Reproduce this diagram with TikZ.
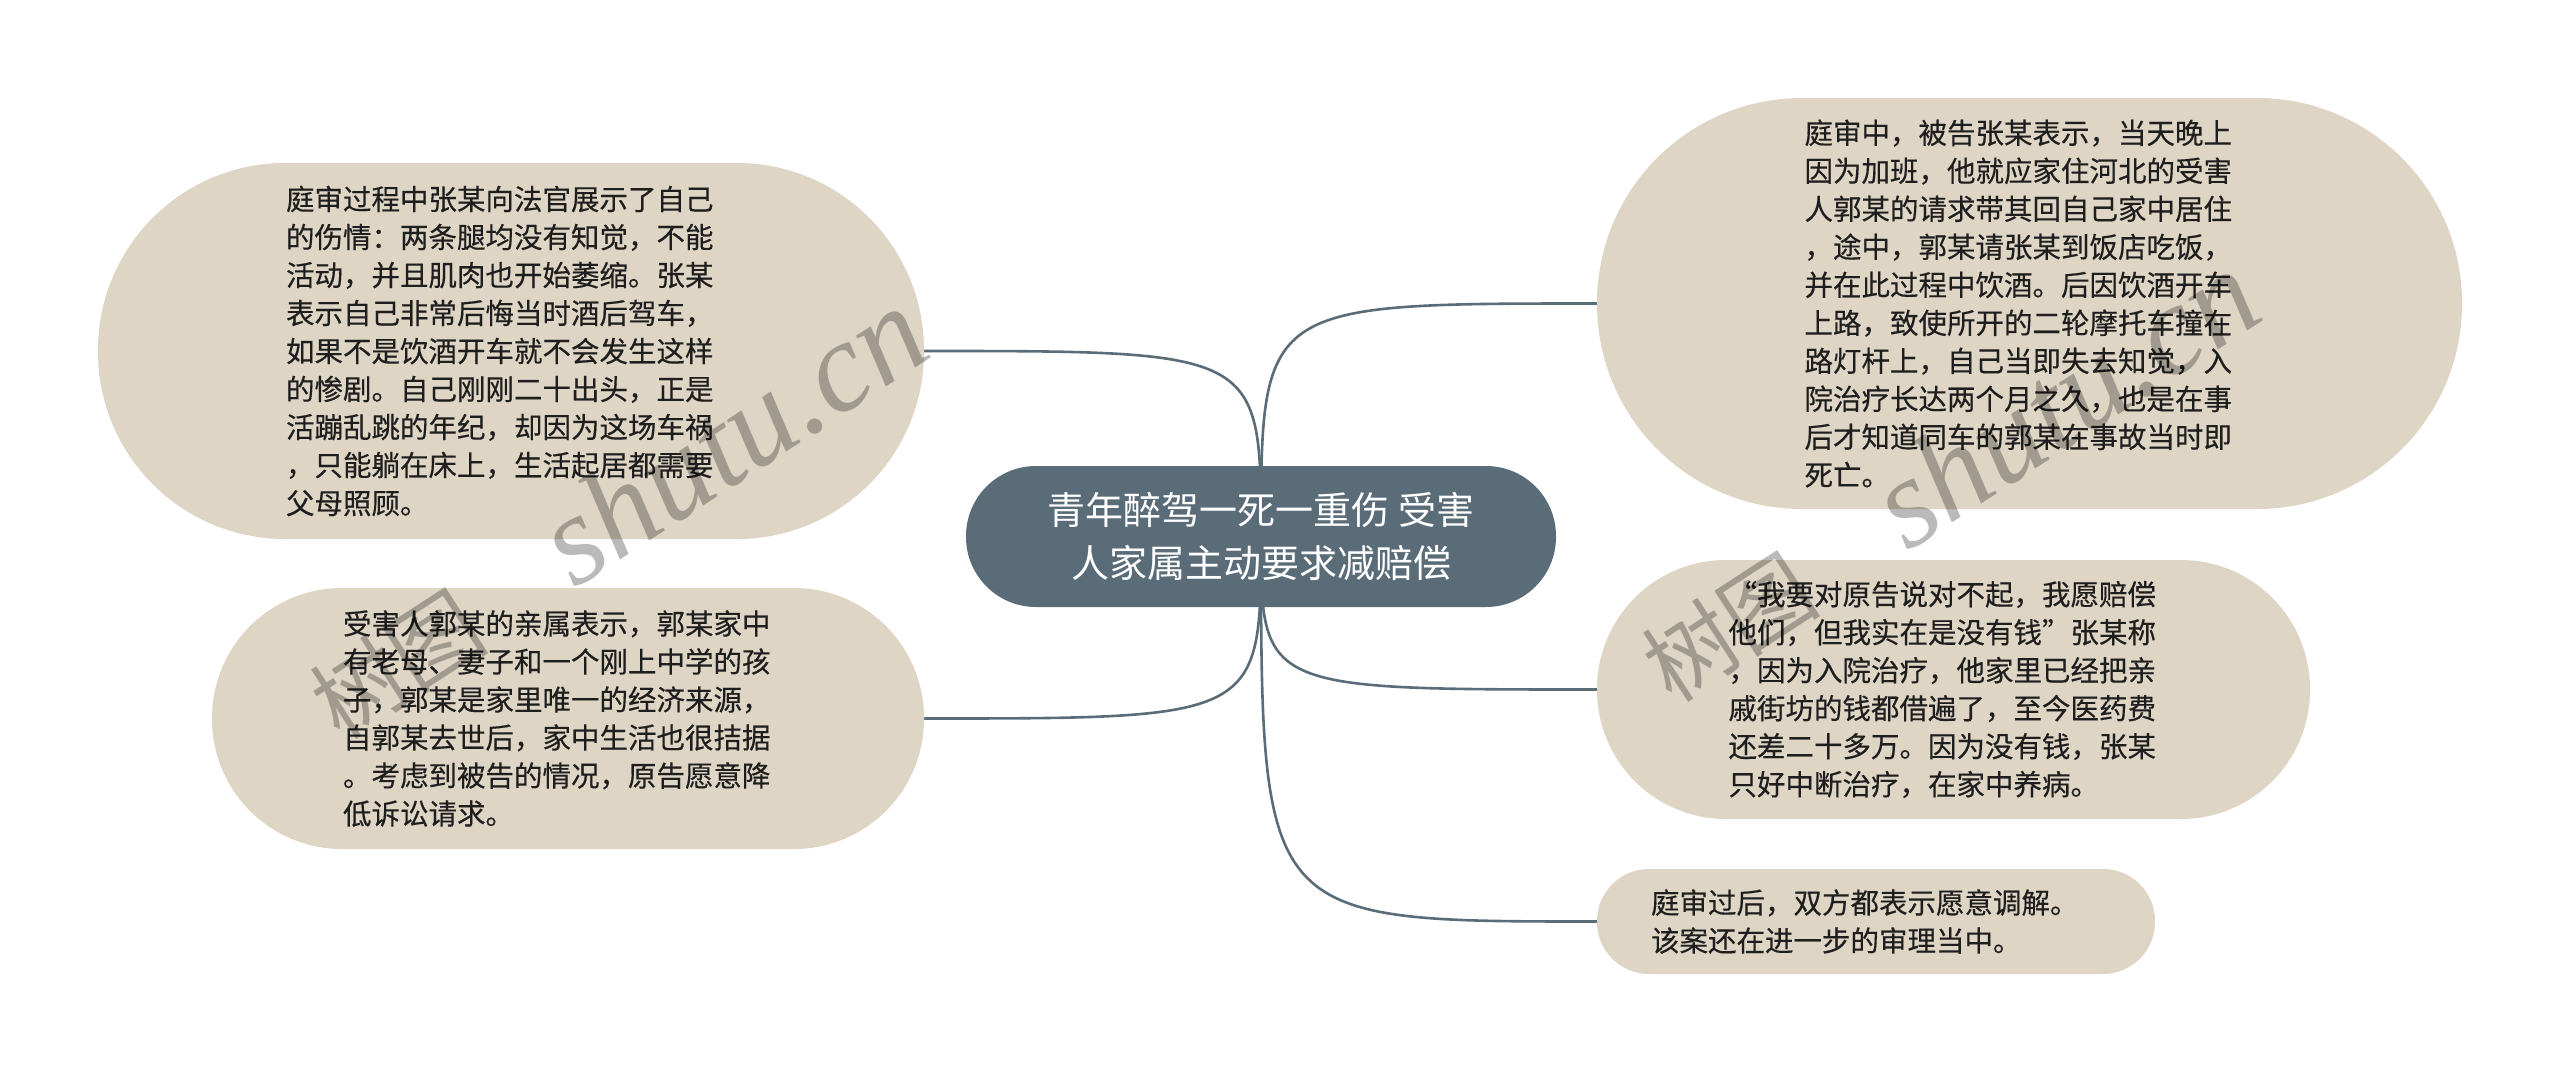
\documentclass[tikz,border=0pt]{standalone}
\usepackage{fontspec}
\setmainfont{Noto Sans CJK SC}
\newfontfamily\leaffont{Noto Sans CJK SC}[FakeBold=0.35]
\newfontfamily\wmlatin{Liberation Serif}
\newfontfamily\wmcjk{Noto Sans CJK SC}
\usetikzlibrary{backgrounds}
\definecolor{boxfill}{RGB}{222,213,197}
\definecolor{slate}{RGB}{91,108,121}
\definecolor{txt}{RGB}{30,30,30}
\begin{document}
\begin{tikzpicture}[x=1pt,y=-1pt,
  leaf/.style={fill=boxfill, draw=none, inner sep=0pt, text=txt,
    font=\leaffont\fontsize{28.5}{38}\selectfont, align=left, text width=450pt},
  rootbox/.style={fill=slate, draw=none, inner sep=0pt, text=white,
    font=\fontsize{38}{53}\selectfont, align=center,
    minimum width=590pt, minimum height=141pt, rounded corners=70pt},
  conn/.style={draw=slate, line width=2.6pt},
  wm/.style={text=black, opacity=0.27, inner sep=0pt, rotate=33, anchor=base west}
]
\useasboundingbox (0,0) rectangle (2560,1071);

\node[rootbox] (root) at (1261,536.5) {青年醉驾一死一重伤 受害\\人家属主动要求减赔偿};

\node[leaf, minimum width=826pt, minimum height=376pt, rounded corners=187pt] (l1) at (511,351)
{庭审过程中张某向法官展示了自己\\的伤情：两条腿均没有知觉，不能\\活动，并且肌肉也开始萎缩。张某\\表示自己非常后悔当时酒后驾车，\\如果不是饮酒开车就不会发生这样\\的惨剧。自己刚刚二十出头，正是\\活蹦乱跳的年纪，却因为这场车祸\\，只能躺在床上，生活起居都需要\\父母照顾。};

\node[leaf, minimum width=712pt, minimum height=261pt, rounded corners=130pt] (l2) at (568,718.5)
{受害人郭某的亲属表示，郭某家中\\有老母、妻子和一个刚上中学的孩\\子，郭某是家里唯一的经济来源，\\自郭某去世后，家中生活也很拮据\\。考虑到被告的情况，原告愿意降\\低诉讼请求。};

\node[leaf, minimum width=865pt, minimum height=411pt, rounded corners=205pt] (r1) at (2029.5,303.5)
{庭审中，被告张某表示，当天晚上\\因为加班，他就应家住河北的受害\\人郭某的请求带其回自己家中居住\\，途中，郭某请张某到饭店吃饭，\\并在此过程中饮酒。后因饮酒开车\\上路，致使所开的二轮摩托车撞在\\路灯杆上，自己当即失去知觉，入\\院治疗长达两个月之久，也是在事\\后才知道同车的郭某在事故当时即\\死亡。};

\node[leaf, minimum width=713pt, minimum height=259pt, rounded corners=129pt] (r2) at (1953.5,689.5)
{“我要对原告说对不起，我愿赔偿\\他们，但我实在是没有钱”张某称\\，因为入院治疗，他家里已经把亲\\戚街坊的钱都借遍了，至今医药费\\还差二十多万。因为没有钱，张某\\只好中断治疗，在家中养病。};

\node[leaf, minimum width=558pt, minimum height=105pt, rounded corners=52pt] (r3) at (1876,921.5)
{庭审过后，双方都表示愿意调解。\\该案还在进一步的审理当中。};

\begin{scope}[on background layer]
\fill[white] (0,0) rectangle (2560,1071);
\draw[conn] (root.center) .. controls (root.center |- l1.east) .. (l1.east);
\draw[conn] (root.center) .. controls (root.center |- l2.east) .. (l2.east);
\draw[conn] (root.center) .. controls (root.center |- r1.west) .. (r1.west);
\draw[conn] (root.center) .. controls (root.center |- r2.west) .. (r2.west);
\draw[conn] (root.center) .. controls (root.center |- r3.west) .. (r3.west);
\end{scope}

\node[wm] (wm1) at (340,742) {{\wmcjk\fontsize{90}{90}\selectfont 树图}\hspace{100pt}{\wmlatin\itshape\fontsize{128}{128}\selectfont shutu.cn}};
\node[wm] (wm2) at (1672,705) {{\wmcjk\fontsize{90}{90}\selectfont 树图}\hspace{100pt}{\wmlatin\itshape\fontsize{128}{128}\selectfont shutu.cn}};
\end{tikzpicture}
\end{document}
